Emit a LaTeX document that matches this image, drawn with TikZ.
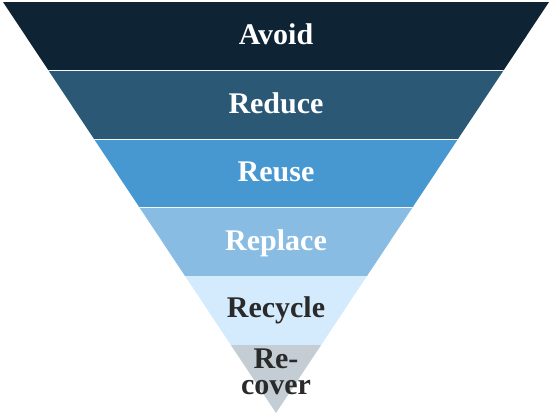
\documentclass[tikz,border=0pt]{standalone}
\usepackage{fontspec}
\setmainfont{Liberation Serif}
\definecolor{cAvoid}{HTML}{0E2333}
\definecolor{cReduce}{HTML}{2A5875}
\definecolor{cReuse}{HTML}{4798D0}
\definecolor{cReplace}{HTML}{88BCE2}
\definecolor{cRecycle}{HTML}{D4EBFD}
\definecolor{cRecover}{HTML}{C4CDD3}
\definecolor{cDark}{HTML}{2A2A2A}
\tikzset{
  lbl/.style={font=\fontsize{30}{26}\selectfont\bfseries, inner sep=0pt, align=center, anchor=base},
  sep/.style={draw=white!90!cReplace, line width=0.8pt}
}
\begin{document}
\begin{tikzpicture}[x=1pt,y=-1pt]
\useasboundingbox (0,0) rectangle (552,414);
\begin{scope}
\clip (3,2) -- (549,2) -- (276,413) -- cycle;
\fill[cAvoid] (0,2) rectangle (552,70.5);
\fill[cReduce] (0,70.5) rectangle (552,139);
\fill[cReuse] (0,139) rectangle (552,207.5);
\fill[cReplace] (0,207.5) rectangle (552,276);
\fill[cRecycle] (0,276) rectangle (552,344.5);
\fill[cRecover] (0,344.5) rectangle (552,414);
\draw[sep] (0,70.5) -- (552,70.5);
\draw[sep] (0,139) -- (552,139);
\draw[sep] (0,207.5) -- (552,207.5);
\end{scope}
\node[lbl, text=white] (avoid) at (276,45) {Avoid};
\node[lbl, text=white] (reduce) at (276,113.5) {Reduce};
\node[lbl, text=white] (reuse) at (276,182) {Reuse};
\node[lbl, text=white] (replace) at (276,250.5) {Replace};
\node[lbl, text=cDark] (recycle) at (276,318) {Recycle};
\node[lbl, text=cDark] (recover) at (276,394) {Re-\\cover};
\end{tikzpicture}
\end{document}
